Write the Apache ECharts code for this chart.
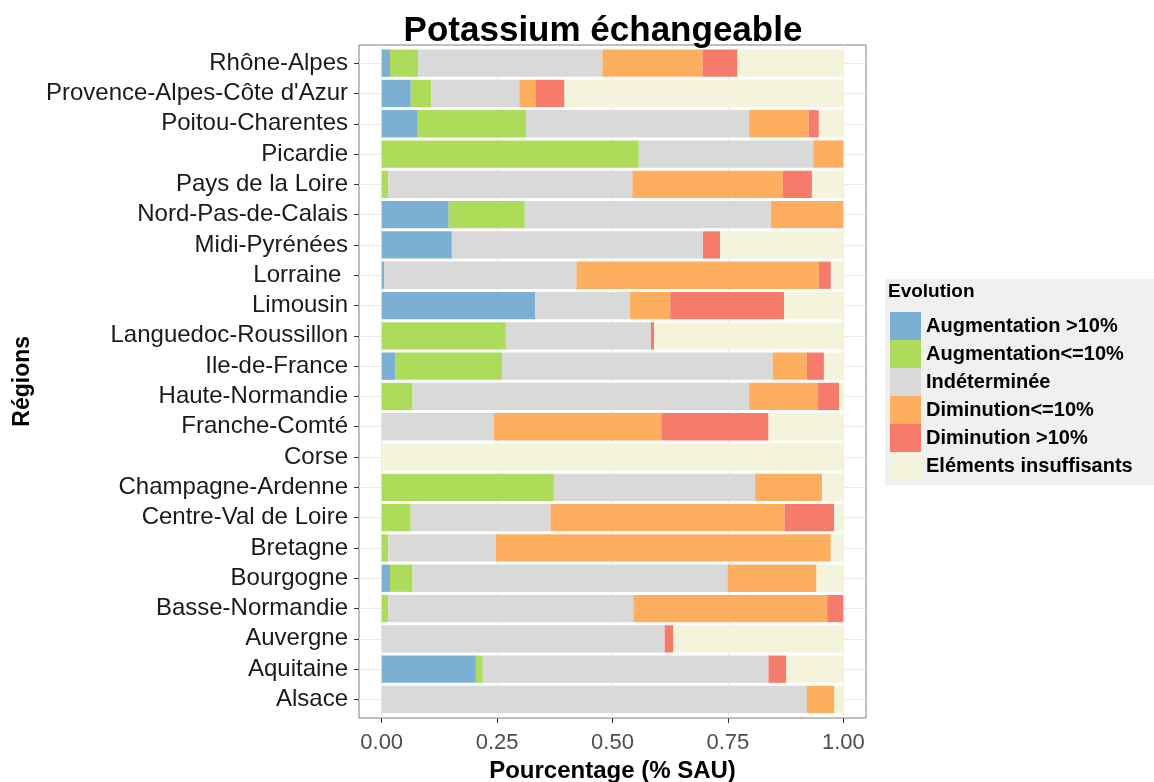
<!DOCTYPE html>
<html>
<head>
<meta charset="utf-8">
<script src="https://cdn.jsdelivr.net/npm/echarts@6/dist/echarts.min.js"></script>
<style>
  html, body { margin: 0; padding: 0; background: #fff; }
  #chart { width: 1154px; height: 782px; }
</style>
</head>
<body>
<div id="chart"></div>
<script>
  // regions, top to bottom
  var regions = ['Rhône-Alpes', "Provence-Alpes-Côte d'Azur", 'Poitou-Charentes', 'Picardie',
    'Pays de la Loire', 'Nord-Pas-de-Calais', 'Midi-Pyrénées', 'Lorraine ', 'Limousin',
    'Languedoc-Roussillon', 'Ile-de-France', 'Haute-Normandie', 'Franche-Comté', 'Corse',
    'Champagne-Ardenne', 'Centre-Val de Loire', 'Bretagne', 'Bourgogne', 'Basse-Normandie',
    'Auvergne', 'Aquitaine', 'Alsace'];

  var seriesNames = ['Augmentation >10%', 'Augmentation<=10%', 'Indéterminée',
    'Diminution<=10%', 'Diminution >10%', 'Eléments insuffisants'];
  var seriesColors = ['#7bafd4', '#addc5b', '#d9d9d9', '#fdae5f', '#f67b6b', '#f4f4dd'];

  var augFort = [0.018, 0.063, 0.078, 0, 0, 0.145, 0.152, 0.006, 0.332, 0, 0.030, 0, 0, 0, 0, 0, 0, 0.018, 0, 0, 0.204, 0];
  var augFaible = [0.061, 0.045, 0.235, 0.557, 0.014, 0.165, 0, 0, 0, 0.269, 0.231, 0.067, 0, 0, 0.373, 0.063, 0.014, 0.049, 0.014, 0, 0.015, 0];
  var indetermine = [0.399, 0.190, 0.483, 0.378, 0.529, 0.533, 0.544, 0.416, 0.206, 0.314, 0.586, 0.729, 0.243, 0, 0.436, 0.303, 0.233, 0.682, 0.531, 0.613, 0.619, 0.921];
  var dimFaible = [0.217, 0.035, 0.129, 0.065, 0.326, 0.157, 0, 0.525, 0.087, 0, 0.074, 0.148, 0.363, 0, 0.145, 0.507, 0.726, 0.193, 0.420, 0, 0, 0.060];
  var dimFort = [0.076, 0.063, 0.022, 0, 0.063, 0, 0.037, 0.026, 0.247, 0.007, 0.037, 0.047, 0.232, 0, 0, 0.107, 0, 0, 0.035, 0.019, 0.038, 0];
  var insuffisant = [0.229, 0.604, 0.053, 0, 0.068, 0, 0.267, 0.027, 0.128, 0.410, 0.042, 0.009, 0.162, 1, 0.046, 0.020, 0.027, 0.058, 0, 0.368, 0.124, 0.019];

  var allData = [augFort, augFaible, indetermine, dimFaible, dimFort, insuffisant];
  var font = "'Liberation Sans', Arial, sans-serif";

  var chart = echarts.init(document.getElementById('chart'));

  var series = seriesNames.map(function (name, i) {
    return {
      name: name,
      type: 'bar',
      stack: 'total',
      xAxisIndex: 2,
      yAxisIndex: 2,
      barWidth: '90%',
      data: allData[i],
      itemStyle: {color: seriesColors[i]},
      emphasis: {disabled: true}
    };
  });

  var option = {
    backgroundColor: '#fff',
    animation: false,
    title: [
      {
        text: 'Potassium échangeable',
        left: 598, top: 9, textAlign: 'center',
        textStyle: {fontFamily: font, fontSize: 35, fontWeight: 'bold', color: '#000'}
      },
      {
        text: 'Evolution',
        left: 888, top: 282, padding: 0,
        textStyle: {fontFamily: font, fontSize: 19, fontWeight: 'bold', color: '#000'}
      }
    ],
    legend: {
      orient: 'vertical',
      left: 885, top: 279,
      padding: [33, 30, 5, 5],
      backgroundColor: '#f0f0f0',
      itemWidth: 31, itemHeight: 28, itemGap: 0,
      icon: 'rect',
      selectedMode: false,
      data: seriesNames,
      textStyle: {fontFamily: font, fontSize: 20, fontWeight: 'bold', color: '#000'}
    },
    grid: [
      // panel
      {left: 359, top: 45, width: 507, height: 673, outerBoundsMode: 'none', show: true, backgroundColor: '#fff', borderColor: '#7f7f7f', borderWidth: 1},
      // horizontal grid lines + region labels
      {left: 359, top: 63.15, width: 507, height: 636.3, outerBoundsMode: 'none'},
      // bars
      {left: 381.7, top: 48, width: 461.6, height: 666.6, outerBoundsMode: 'none'},
      // vertical grid lines + x labels
      {left: 381.7, top: 45, width: 461.6, height: 673, outerBoundsMode: 'none'}
    ],
    xAxis: [
      {gridIndex: 0, type: 'value', show: false},
      {gridIndex: 1, type: 'value', show: false},
      {gridIndex: 2, type: 'value', min: 0, max: 1, show: false},
      {
        gridIndex: 3, type: 'value', min: 0, max: 1, interval: 0.25,
        name: 'Pourcentage (% SAU)', nameLocation: 'middle', nameGap: 41,
        nameTextStyle: {fontFamily: font, fontSize: 24, fontWeight: 'bold', color: '#000'},
        axisLine: {show: false},
        axisTick: {show: true, length: 5, lineStyle: {color: '#333'}},
        axisLabel: {
          margin: 14, fontFamily: font, fontSize: 22, color: '#4d4d4d',
          formatter: function (v) { return v.toFixed(2); }
        },
        splitLine: {show: true, lineStyle: {color: '#ebebeb', width: 1}}
      }
    ],
    yAxis: [
      {gridIndex: 0, type: 'value', show: false},
      {
        gridIndex: 1, type: 'category', data: regions, inverse: true, boundaryGap: false,
        name: 'Régions', nameLocation: 'middle', nameGap: 325, nameRotate: 90,
        nameTextStyle: {fontFamily: font, fontSize: 23, fontWeight: 'bold', color: '#000'},
        axisLine: {show: false},
        axisTick: {show: true, length: 5, alignWithLabel: true, lineStyle: {color: '#333'}},
        axisLabel: {margin: 11, fontFamily: font, fontSize: 24, color: '#1a1a1a', interval: 0},
        splitLine: {show: true, interval: 0, lineStyle: {color: '#ebebeb', width: 1}}
      },
      {gridIndex: 2, type: 'category', data: regions, inverse: true, show: false},
      {gridIndex: 3, type: 'value', show: false}
    ],
    series: series
  };

  chart.setOption(option);
</script>
</body>
</html>
